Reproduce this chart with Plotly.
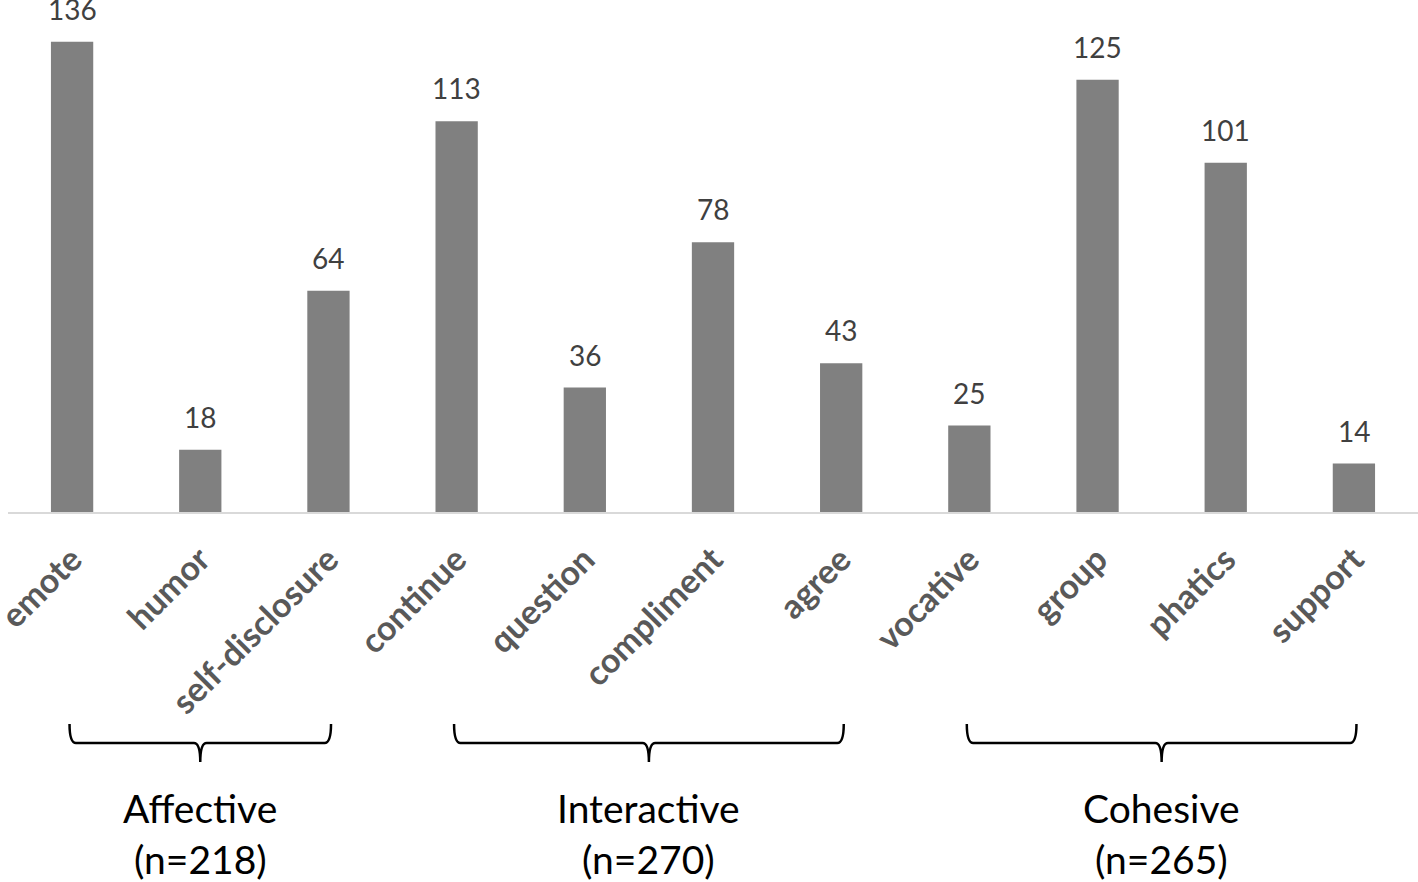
import plotly.graph_objects as go

categories = ["emote", "humor", "self-disclosure", "continue", "question", "compliment",
              "agree", "vocative", "group", "phatics", "support"]
values = [136, 18, 64, 113, 36, 78, 43, 25, 125, 101, 14]
group_names = ["Affective", "Interactive", "Cohesive"]
group_counts = [218, 270, 265]
group_spans = [(0, 2), (3, 6), (7, 10)]

FONT = "Lato"
x_idx = list(range(len(categories)))

fig = go.Figure()
fig.add_trace(go.Bar(
    x=x_idx, y=values, marker=dict(color="#808080", line=dict(width=0)),
    width=0.33, hoverinfo="skip",
))

for i, v in zip(x_idx, values):
    fig.add_annotation(x=i, y=v, text=str(v), showarrow=False, yanchor="bottom",
                       yshift=14, font=dict(family=FONT, size=28, color="#404040"))

# plot area: 512 px tall (paper y=0 at px 512)
H = 512.0
def py(p):
    return (H - p) / H

for (a, b), name, n in zip(group_spans, group_names, group_counts):
    x0, x1 = a - 0.02, b + 0.02
    mid = (a + b) / 2
    ytop, yline, ybot = py(724), py(743), py(762)
    d = 0.05
    path = (f"M {x0},{ytop} Q {x0},{yline} {x0+d},{yline} "
            f"L {mid-d},{yline} Q {mid},{yline} {mid},{ybot} "
            f"Q {mid},{yline} {mid+d},{yline} "
            f"L {x1-d},{yline} Q {x1},{yline} {x1},{ytop}")
    fig.add_shape(type="path", path=path, xref="x", yref="paper",
                  line=dict(color="#000000", width=2.5))
    fig.add_annotation(x=mid, y=py(808), xref="x", yref="paper", text=name,
                       showarrow=False, yanchor="middle",
                       font=dict(family=FONT, size=39, color="#000000"))
    fig.add_annotation(x=mid, y=py(859), xref="x", yref="paper", text=f"(n={n})",
                       showarrow=False, yanchor="middle",
                       font=dict(family=FONT, size=39, color="#000000"))

fig.update_layout(
    width=1418, height=882,
    margin=dict(l=8, r=0, t=0, b=370, autoexpand=False),
    plot_bgcolor="white", paper_bgcolor="white",
    showlegend=False,
    xaxis=dict(range=[-0.5, 10.5], tickmode="array", tickvals=x_idx,
               ticktext=[f"<b>{c}</b>" for c in categories], tickangle=-45,
               tickfont=dict(family=FONT, size=34, color="#595959"),
               ticklabeloverflow="allow", automargin=False,
               showline=True, linecolor="#d9d9d9", linewidth=2,
               showgrid=False, zeroline=False, ticks="", ticklabelstandoff=12),
    yaxis=dict(range=[0, 148.1], visible=False, showgrid=False, zeroline=False,
               automargin=False),
)

fig.write_html("out.html", config={"displayModeBar": False},
               post_script="document.body.style.margin='0';document.body.style.overflow='hidden';")
